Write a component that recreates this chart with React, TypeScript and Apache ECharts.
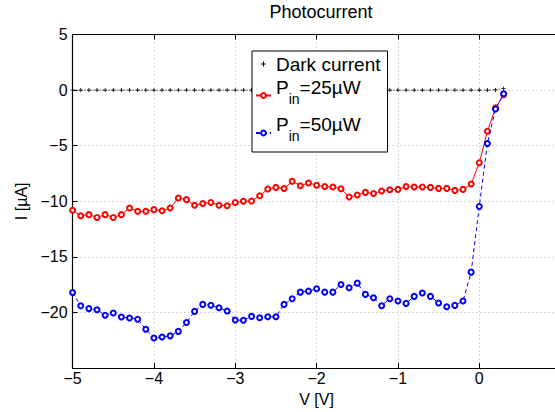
import React, { useEffect, useRef } from "react";
import * as echarts from "echarts";

const voltages = [
  -5.0, -4.9, -4.8, -4.7, -4.6, -4.5, -4.4, -4.3, -4.2, -4.1,
  -4.0, -3.9, -3.8, -3.7, -3.6, -3.5, -3.4, -3.3, -3.2, -3.1,
  -3.0, -2.9, -2.8, -2.7, -2.6, -2.5, -2.4, -2.3, -2.2, -2.1,
  -2.0, -1.9, -1.8, -1.7, -1.6, -1.5, -1.4, -1.3, -1.2, -1.1,
  -1.0, -0.9, -0.8, -0.7, -0.6, -0.5, -0.4, -0.3, -0.2, -0.1,
  0.0, 0.1, 0.2, 0.3,
];

const darkCurrent = [
  0, 0, 0, 0, 0, 0, 0, 0, 0, 0,
  0, 0, 0, 0, 0, 0, 0, 0, 0, 0,
  0, 0, 0, 0, 0, 0, 0, 0, 0, 0,
  0, 0, 0, 0, 0, 0, 0, 0, 0, 0,
  0, 0, 0, 0, 0, 0, 0, 0, 0, 0,
  0, 0, 0.02, 0.15,
];

const pin25 = [
  -10.8, -11.3, -11.2, -11.45, -11.2, -11.45, -11.2, -10.6, -10.9, -10.9,
  -10.75, -10.85, -10.6, -9.7, -9.85, -10.35, -10.2, -10.1, -10.35, -10.4,
  -10.1, -10.0, -9.98, -9.5, -8.9, -8.75, -8.85, -8.2, -8.6, -8.35,
  -8.55, -8.67, -8.72, -8.87, -9.62, -9.44, -9.2, -9.3, -9.08, -8.96,
  -8.93, -8.67, -8.72, -8.72, -8.75, -8.84, -8.84, -9.02, -8.93, -8.45,
  -6.54, -3.7, -1.6, -0.42,
];

const pin50 = [
  -18.2, -19.4, -19.65, -19.75, -20.25, -20.05, -20.4, -20.5, -20.6, -21.5,
  -22.3, -22.2, -22.1, -21.7, -20.9, -19.9, -19.27, -19.35, -19.57, -19.87,
  -20.68, -20.7, -20.35, -20.47, -20.38, -20.38, -19.27, -18.76, -18.17, -18.08,
  -17.87, -18.17, -18.17, -17.48, -17.78, -17.36, -18.37, -18.67, -19.39, -18.76,
  -18.97, -19.18, -18.55, -18.25, -18.55, -19.15, -19.48, -19.36, -18.97, -16.37,
  -10.46, -4.8, -1.7, -0.33,
];

const xTicks = { min: -5, max: 1, interval: 1 };
const yTicks = { min: -25, max: 5, interval: 5 };
const hiddenXLabels = [1];
const hiddenYLabels = [-25];

const FONT = "'Liberation Sans', Arial, Helvetica, sans-serif";
const PLUS = "path://M1.6,0h0.8v1.6h1.6v0.8h-1.6v1.6h-0.8v-1.6h-1.6v-0.8h1.6z";

const fmtMinus = (v: number) => String(v).replace("-", "\u2212");

export default function App() {
  const ref = useRef<HTMLDivElement>(null);
  useEffect(() => {
    if (!ref.current) return;
    const chart = echarts.init(ref.current, null, { renderer: "svg" });
    const pairs = (ys: number[]) => voltages.map((v, i) => [v, ys[i]]);
    chart.setOption({
      animation: false,
      backgroundColor: "#fff",
      title: {
        text: "Photocurrent",
        left: 316,
        textAlign: "center",
        top: -2,
        textStyle: { fontFamily: FONT, fontSize: 18, fontWeight: "normal", color: "#000" },
      },
      grid: { left: 72.6, top: 34.5, width: 488, height: 335.5 },
      legend: {
        orient: "vertical",
        left: 252,
        top: 51,
        backgroundColor: "#fff",
        borderColor: "#000",
        borderWidth: 1,
        borderRadius: 0,
        padding: [3.5, 7, 3.5, 3],
        itemGap: 4,
        itemWidth: 15,
        itemHeight: 6,
        data: [
          { name: "Dark current", lineStyle: { width: 0 } },
          { name: "Pin25" },
          { name: "Pin50" },
        ],
        formatter: (name: string) => {
          if (name === "Pin25") return "{p|P}{s|in}{p|=25\u00b5W}";
          if (name === "Pin50") return "{p|P}{s|in}{p|=50\u00b5W}";
          return "{d|Dark current}";
        },
        textStyle: {
          fontFamily: FONT,
          color: "#000",
          rich: {
            d: { fontFamily: FONT, fontSize: 19, color: "#000", lineHeight: 19 },
            p: { fontFamily: FONT, fontSize: 19, color: "#000", height: 14, lineHeight: 31, verticalAlign: "top" },
            s: { fontFamily: FONT, fontSize: 14, color: "#000", height: 14, lineHeight: 31, padding: [0, 0, 5.4, 0], verticalAlign: "bottom" },
          },
        },
      },
      xAxis: [
        {
          type: "value",
          ...xTicks,
          position: "bottom",
          name: "V [V]",
          nameLocation: "middle",
          nameGap: 19,
          nameTextStyle: { fontFamily: FONT, fontSize: 16, color: "#000" },
          axisLine: { onZero: false, lineStyle: { color: "#000", width: 1.2 } },
          axisTick: { inside: true, length: 5, lineStyle: { color: "#000" } },
          axisLabel: {
            fontFamily: FONT,
            fontSize: 16,
            color: "#000",
            margin: 2,
            formatter: (v: number) => (hiddenXLabels.includes(v) ? "" : fmtMinus(v)),
          },
          splitLine: { show: true, lineStyle: { color: "#b0b0b0", type: [1, 3], width: 1 } },
        },
        {
          type: "value",
          ...xTicks,
          position: "top",
          axisLine: { onZero: false, lineStyle: { color: "#000", width: 1.2 } },
          axisTick: { inside: true, length: 5, lineStyle: { color: "#000" } },
          axisLabel: { show: false },
          splitLine: { show: false },
        },
      ],
      yAxis: [
        {
          type: "value",
          ...yTicks,
          position: "left",
          name: "I [\u00b5A]",
          nameLocation: "middle",
          nameGap: 40,
          nameTextStyle: { fontFamily: FONT, fontSize: 16, color: "#000" },
          axisLine: { show: true, onZero: false, lineStyle: { color: "#000", width: 1.2 } },
          axisTick: { show: true, inside: true, length: 5, lineStyle: { color: "#000" } },
          axisLabel: {
            fontFamily: FONT,
            fontSize: 16,
            color: "#000",
            margin: 5,
            formatter: (v: number) => (hiddenYLabels.includes(v) ? "" : fmtMinus(v)),
          },
          splitLine: { show: true, lineStyle: { color: "#b0b0b0", type: [1, 3], width: 1 } },
        },
        {
          type: "value",
          ...yTicks,
          position: "right",
          axisLine: { show: true, onZero: false, lineStyle: { color: "#000", width: 1.2 } },
          axisTick: { show: true, inside: true, length: 5, lineStyle: { color: "#000" } },
          axisLabel: { show: false },
          splitLine: { show: false },
        },
      ],
      series: [
        {
          name: "Dark current",
          type: "line",
          data: pairs(darkCurrent),
          symbol: PLUS,
          symbolSize: 4,
          showAllSymbol: true,
          itemStyle: { color: "#000" },
          lineStyle: { color: "#000", width: 1, type: [1, 2] },
          z: 3,
        },
        {
          name: "Pin25",
          type: "line",
          data: pairs(pin25),
          symbol: "emptyCircle",
          symbolSize: 5,
          showAllSymbol: true,
          itemStyle: { color: "#ff0000", borderColor: "#ff2020", borderWidth: 1 },
          lineStyle: { color: "#ff0000", width: 1 },
          z: 4,
        },
        {
          name: "Pin50",
          type: "line",
          data: pairs(pin50),
          symbol: "emptyCircle",
          symbolSize: 5,
          showAllSymbol: true,
          itemStyle: { color: "#0000ff", borderColor: "#2020ff", borderWidth: 1 },
          lineStyle: { color: "#0000ff", width: 1, type: [4, 3] },
          z: 5,
        },
      ],
    });
    return () => chart.dispose();
  }, []);
  return (
    <div style={{ position: "fixed", left: 0, top: 0, width: 555, height: 412, overflow: "hidden", background: "#fff" }}>
      <div ref={ref} style={{ width: 600, height: 412 }} />
    </div>
  );
}
